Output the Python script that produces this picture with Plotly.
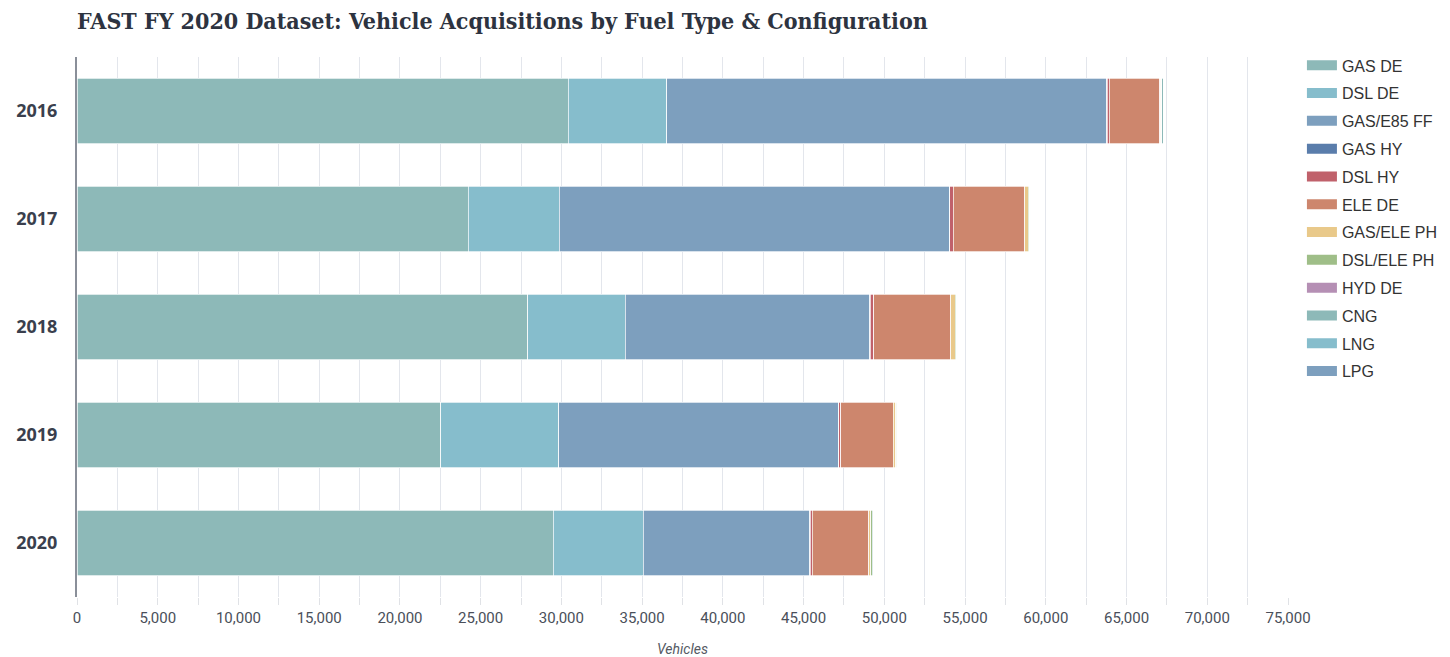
import plotly.graph_objects as go

years = ["2016", "2017", "2018", "2019", "2020"]
fuel_types = ["GAS DE", "DSL DE", "GAS/E85 FF", "GAS HY", "DSL HY", "ELE DE",
              "GAS/ELE PH", "DSL/ELE PH", "HYD DE", "CNG", "LNG", "LPG"]

gas_de     = [30425, 24235, 27930, 22540, 29480]
dsl_de     = [6095, 5635, 6010, 7310, 5575]
gas_e85_ff = [27250, 24150, 15170, 17300, 10340]
gas_hy     = [20, 20, 20, 15, 15]
dsl_hy     = [140, 230, 200, 150, 110]
ele_de     = [3140, 4440, 4795, 3240, 3530]
gas_ele_ph = [40, 205, 265, 165, 120]
dsl_ele_ph = [60, 90, 90, 60, 80]
hyd_de     = [5, 5, 5, 5, 5]
cng        = [110, 40, 45, 30, 50]
lng        = [5, 5, 5, 5, 5]
lpg        = [25, 10, 10, 10, 10]

series = [gas_de, dsl_de, gas_e85_ff, gas_hy, dsl_hy, ele_de,
          gas_ele_ph, dsl_ele_ph, hyd_de, cng, lng, lpg]

colors = ["#8db9b8", "#86bdcc", "#7d9fbe", "#5a7dab", "#c0616b", "#cd866d",
          "#e9c98a", "#9fbe88", "#b58fb4", "#8db9b8", "#86bdcc", "#7d9fbe"]

fig = go.Figure()
for name, vals, col in zip(fuel_types, series, colors):
    fig.add_trace(go.Bar(
        y=years, x=vals, name=name, orientation="h",
        marker=dict(color=col, line=dict(color="white", width=0.7)),
        legendgroup=name, showlegend=False,
    ))
    # legend-only entry drawn as a wide swatch
    fig.add_trace(go.Scatter(
        x=[None], y=[None], mode="lines", name=name,
        line=dict(color=col, width=17),
        legendgroup=name, showlegend=True, hoverinfo="skip",
    ))

# page body has an 8px margin, so the figure is 8px smaller and shifted
W, H = 1442, 649
fig.update_layout(
    barmode="stack",
    bargap=0.39,
    width=W, height=H,
    margin=dict(l=69, r=162, t=49, b=60, autoexpand=False),
    paper_bgcolor="white",
    plot_bgcolor="white",
    title=dict(
        text="<b>FAST FY 2020 Dataset: Vehicle Acquisitions by Fuel Type &amp; Configuration</b>",
        x=69 / W, xanchor="left", y=1 - 13 / H, yanchor="middle",
        font=dict(family="DejaVu Serif Condensed, DejaVu Serif", size=23, color="#2d3340"),
    ),
    legend=dict(
        x=1.0115, xanchor="left", y=1.016, yanchor="top",
        font=dict(family="Liberation Sans, Arial", size=16, color="#333333"),
        traceorder="grouped", tracegroupgap=4, maxheight=600,
        bgcolor="rgba(0,0,0,0)",
    ),
    xaxis=dict(
        range=[0, 75000],
        dtick=5000, tickformat=",d",
        showgrid=True, gridcolor="#e3e6ec", gridwidth=1,
        minor=dict(dtick=2500, showgrid=True, gridcolor="#e3e6ec",
                   ticks="outside", ticklen=7, tickcolor="#e0e2e6"),
        ticks="outside", ticklen=7, tickcolor="#e0e2e6",
        showline=False, zeroline=False,
        tickfont=dict(family="Roboto, Open Sans", size=15, color="#4a4f5a"),
        title=dict(text="<i>Vehicles</i>", standoff=18,
                   font=dict(family="Roboto, Open Sans", size=14, color="#555a63")),
    ),
    yaxis=dict(
        type="category", autorange="reversed",
        showline=True, linecolor="#8a8f99", linewidth=2,
        showgrid=False, ticks="", ticklabelstandoff=14,
        tickfont=dict(family="Open Sans, Roboto", size=18, color="#3a3f4d"),
        tickprefix="<b>", ticksuffix="</b>",
    ),
)

fig.write_html("out.html")
